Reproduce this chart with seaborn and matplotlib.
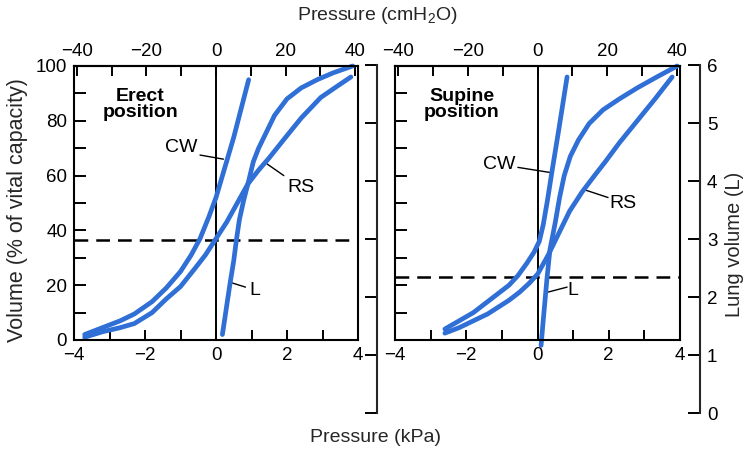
import numpy as np
import pandas as pd
import matplotlib
matplotlib.use("Agg")
import matplotlib.pyplot as plt
import seaborn as sns
from matplotlib.ticker import MultipleLocator

# ---------------- data (pressure in kPa, volume in % of vital capacity) -------------
erect_cw_x = [-3.7, -3.2, -2.7, -2.3, -1.8, -1.4, -1.0, -0.7, -0.45, -0.2, 0.0, 0.25, 0.5, 0.7, 0.92]
erect_cw_y = [2, 4.5, 7, 9.5, 14, 19, 25, 31, 37, 45, 52, 63, 74, 84, 95]

erect_rs_x = [-3.7, -3.2, -2.7, -2.3, -1.8, -1.4, -1.0, -0.6, -0.3, 0.0, 0.3, 0.6, 0.9, 1.2, 1.5, 1.9, 2.4, 2.95, 3.4, 3.8]
erect_rs_y = [1, 3, 4.5, 6, 10, 15, 19.5, 26, 31, 37, 43, 50, 57, 62, 66.5, 73, 81, 88.5, 92.5, 96]

erect_l_x = [0.18, 0.25, 0.33, 0.4, 0.5, 0.58, 0.66, 0.78, 0.9, 1.05, 1.2, 1.35, 1.65, 2.0, 2.4, 2.85, 3.3, 3.85]
erect_l_y = [2, 8, 15, 21, 29, 37, 44, 51, 57, 65, 70, 74, 82, 88, 92, 95, 97.5, 100]

supine_cw_x = [-2.6, -2.2, -1.8, -1.4, -1.1, -0.8, -0.55, -0.3, -0.1, 0.05, 0.16, 0.28, 0.4, 0.6, 0.83]
supine_cw_y = [4, 7, 10, 14, 17, 20, 23.5, 28, 32, 36, 42, 51, 61, 77, 96]

supine_rs_x = [-2.6, -2.2, -1.8, -1.4, -1.1, -0.8, -0.5, -0.25, 0.0, 0.3, 0.6, 0.9, 1.25, 1.6, 1.9, 2.3, 2.8, 3.3, 3.78]
supine_rs_y = [2.5, 4.5, 7, 9.5, 12, 14.5, 17.5, 20.5, 24, 31, 39, 47, 54, 60, 65, 72, 80, 88, 96]

supine_l_x = [0.1, 0.18, 0.27, 0.35, 0.5, 0.62, 0.75, 0.92, 1.15, 1.45, 1.84, 2.3, 2.8, 3.35, 3.92]
supine_l_y = [-2, 10, 23, 33, 43, 52, 60, 67, 73, 79, 84, 88, 92, 96, 100]

frc_erect = 36.5     # dashed line, % VC
frc_supine = 23.0

panel_titles = ["Erect\nposition", "Supine\nposition"]
curve_labels = ["CW", "RS", "L"]

kpa_ticks = [-4, -2, 0, 2, 4]
cmh2o_ticks = [-40, -20, 0, 20, 40]
vc_ticks = [0, 20, 40, 60, 80, 100]
litre_ticks = [0, 1, 2, 3, 4, 5, 6]

# ------------------------------------------------------------------------------------
sns.set_theme(style="ticks")
plt.rcParams['font.family'] = ['Liberation Sans', 'DejaVu Sans']
plt.rcParams['mathtext.fontset'] = 'custom'
plt.rcParams['mathtext.rm'] = 'Liberation Sans'
plt.rcParams['mathtext.it'] = 'Liberation Sans:italic'

BLUE = "#2f6fd6"
FS = 13.5
W, H = 746, 450

fig = plt.figure(figsize=(W / 100, H / 100), dpi=100)
fig.patch.set_facecolor("white")


def frac(left, top, right, bottom):
    return [left / W, 1 - bottom / H, (right - left) / W, (bottom - top) / H]


def make_df(cw_x, cw_y, rs_x, rs_y, l_x, l_y):
    parts = []
    for name, xs, ys in (("CW", cw_x, cw_y), ("RS", rs_x, rs_y), ("L", l_x, l_y)):
        parts.append(pd.DataFrame({"pressure": xs, "volume": ys, "curve": name}))
    return pd.concat(parts, ignore_index=True)


panels = [
    dict(rect=frac(74, 66, 358, 340), df=make_df(erect_cw_x, erect_cw_y, erect_rs_x, erect_rs_y, erect_l_x, erect_l_y),
         frc=frc_erect, title=panel_titles[0], title_xy=(-2.13, 86.0), ylabels=True,
         ann={"CW": ((-0.97, 70.4), (-0.45, 67.5), (0.21, 66.0)),
              "RS": ((2.39, 55.5), (1.91, 60.0), (1.40, 64.6)),
              "L": ((1.09, 18.0), (0.83, 19.3), (0.41, 21.0))}),
    dict(rect=frac(395, 66, 680, 340), df=make_df(supine_cw_x, supine_cw_y, supine_rs_x, supine_rs_y, supine_l_x, supine_l_y),
         frc=frc_supine, title=panel_titles[1], title_xy=(-2.12, 86.0), ylabels=False,
         ann={"CW": ((-1.08, 64.0), (-0.55, 63.0), (0.42, 61.0)),
              "RS": ((2.40, 50.0), (1.98, 52.0), (1.28, 55.0)),
              "L": ((1.00, 18.0), (0.83, 19.3), (0.30, 17.5))}),
]

for p in panels:
    ax = fig.add_axes(p["rect"])
    ax.set_facecolor("none")
    sns.lineplot(data=p["df"], x="pressure", y="volume", units="curve", estimator=None,
                 sort=False, color=BLUE, lw=3.4, ax=ax, legend=False)
    for ln in ax.get_lines():
        ln.set_solid_capstyle("round")
        ln.set_solid_joinstyle("round")
        ln.set_clip_on(False)
    ax.axvline(0, color="black", lw=1.4, zorder=1)
    ax.axhline(p["frc"], color="black", lw=1.8, ls=(0, (5.5, 3.2)), zorder=1)

    ax.set_xlim(-4, 4)
    ax.set_ylim(0, 100)
    ax.set_xticks(kpa_ticks)
    ax.xaxis.set_minor_locator(MultipleLocator(1))
    ax.set_yticks(vc_ticks)
    ax.yaxis.set_minor_locator(MultipleLocator(10))
    ax.set_xlabel("")
    ax.set_ylabel("")
    for s in ax.spines.values():
        s.set_linewidth(1.5)
        s.set_color("black")
    ax.tick_params(axis="x", which="both", direction="in", length=7.5, width=1.4,
                   labelsize=FS, pad=5, colors="black")
    ax.tick_params(axis="y", which="both", direction="in", length=8.5, width=1.4,
                   labelsize=FS, pad=5, labelleft=p["ylabels"], colors="black")
    ax.tick_params(which="minor", labelbottom=False, labelleft=False)

    sec = ax.secondary_xaxis("top", functions=(lambda x: x * 10.197, lambda x: x / 10.197))
    sec.set_xticks(cmh2o_ticks)
    sec.xaxis.set_minor_locator(MultipleLocator(10))
    sec.spines["top"].set_linewidth(1.5)
    sec.tick_params(which="both", direction="in", length=7.5, width=1.4,
                    labelsize=FS, pad=4, colors="black")
    sec.tick_params(which="minor", labeltop=False)

    ax.text(p["title_xy"][0], p["title_xy"][1], p["title"], ha="center", va="center",
            fontsize=14, fontweight="bold", linespacing=0.95, color="black")
    for name in curve_labels:
        (tx, ty), (lx0, ly0), (lx1, ly1) = p["ann"][name]
        ax.text(tx, ty, name, ha="center", va="center", fontsize=14, color="black")
        ax.plot([lx0, lx1], [ly0, ly1], color="black", lw=1.0, zorder=1)

# separate lung-volume spines (0-6 L)
axL = fig.add_axes(frac(377, 65, 377.1, 413))
axL.set_ylim(0, 6)
axL.set_xticks([])
axL.set_yticks(litre_ticks)
axL.patch.set_visible(False)
for k in ("top", "bottom", "right"):
    axL.spines[k].set_visible(False)
axL.spines["left"].set_linewidth(1.5)
axL.tick_params(axis="y", direction="out", length=8.5, width=1.4, labelleft=False, colors="black")

axR = fig.add_axes(frac(699.9, 65, 700, 413))
axR.set_ylim(0, 6)
axR.set_xticks([])
axR.patch.set_visible(False)
for k in ("top", "bottom", "left"):
    axR.spines[k].set_visible(False)
axR.spines["right"].set_linewidth(1.5)
axR.yaxis.tick_right()
axR.set_yticks(litre_ticks)
axR.tick_params(axis="y", direction="in", length=8.5, width=1.4, labelright=True,
                labelleft=False, labelsize=FS, pad=5, colors="black")

# axis titles
fig.text(377 / W, 1 - 16 / H, "Pressure (cmH$_2$O)", ha="center", va="center", fontsize=14)
fig.text(375 / W, 1 - 437 / H, "Pressure (kPa)", ha="center", va="center", fontsize=14)
fig.text(18 / W, 1 - 210 / H, "Volume (% of vital capacity)", ha="center", va="center",
         rotation=90, fontsize=15.5)
fig.text(734 / W, 1 - 244 / H, "Lung volume (L)", ha="center", va="center",
         rotation=90, fontsize=14.5)

fig.savefig("out.png", dpi=100, facecolor="white")
